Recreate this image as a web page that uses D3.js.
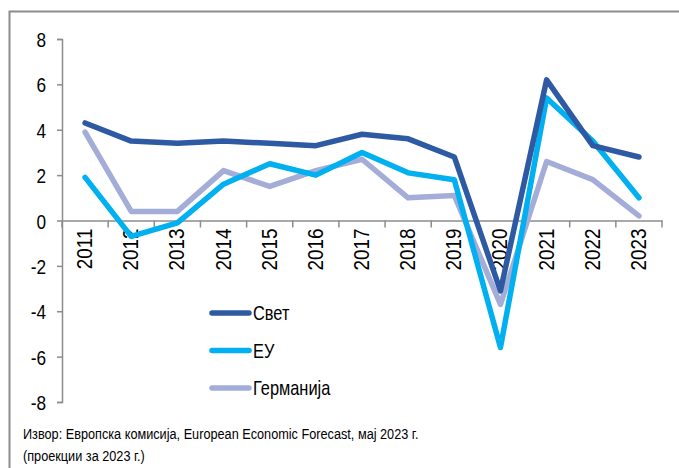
<!DOCTYPE html>
<html>
<head>
<meta charset="utf-8">
<script src="https://cdn.jsdelivr.net/npm/d3@7"></script>
<style>
  body { margin: 0; background: #fff; }
  text { font-family: "Liberation Sans", Arial, sans-serif; fill: #000; }
</style>
</head>
<body>
<div id="container"></div>
<script>
// <---------data---------->
let years = ["2011","2012","2013","2014","2015","2016","2017","2018","2019","2020","2021","2022","2023"];
let svet = [4.3, 3.5, 3.4, 3.5, 3.4, 3.3, 3.8, 3.6, 2.8, -3.1, 6.2, 3.3, 2.8];
let eu = [1.9, -0.7, -0.1, 1.6, 2.5, 2.0, 3.0, 2.1, 1.8, -5.6, 5.4, 3.5, 1.0];
let germany = [3.9, 0.4, 0.4, 2.2, 1.5, 2.2, 2.7, 1.0, 1.1, -3.7, 2.6, 1.8, 0.2];
let yTicks = [8, 6, 4, 2, 0, -2, -4, -6, -8];
let seriesNames = ["Свет", "ЕУ", "Германија"];
let seriesColors = ["#2E59A3", "#00B0F0", "#A3ADD8"];
let sourceLines = [
  "Извор: Европска комисија, European Economic Forecast, мај 2023 г.",
  "(проекции за 2023 г.)"
];

// narrow look (no Arial Narrow installed) -> squeeze text horizontally
let squeeze = 0.82;

// <---------canvas---------->
let w = 679, h = 468;
let viz = d3.select("#container")
  .append("svg")
    .attr("width", w)
    .attr("height", h)
    .style("display", "block")
;

// outer frame
viz.append("rect")
  .attr("x", 9.5)
  .attr("y", 11.5)
  .attr("width", 700)
  .attr("height", 500)
  .attr("fill", "none")
  .attr("stroke", "#8c8c8c")
  .attr("stroke-width", 2)
;

let x = d3.scaleBand().domain(years).range([62, 662]);
let y = d3.scaleLinear().domain([-8, 8]).range([402, 39]);

// y axis
let yAxis = d3.axisLeft(y).tickValues(yTicks).tickSize(5).tickPadding(12)
  .tickFormat(d => d < 0 ? "-" + Math.abs(d) : d);
let yG = viz.append("g").attr("transform", "translate(62,0)").call(yAxis);
yG.select(".domain").attr("stroke", "#8c8c8c").attr("stroke-width", 1.5);
yG.selectAll(".tick line").attr("stroke", "#8c8c8c").attr("stroke-width", 1.5);
yG.selectAll(".tick text")
  .attr("x", null)
  .attr("dy", "0.36em")
  .attr("transform", "translate(-16,0) scale(" + squeeze + ",1)")
  .style("font-size", "21px")
;

// x axis at zero
let xAxis = d3.axisBottom(x).tickSize(0).tickFormat("");
let xG = viz.append("g").attr("transform", "translate(0," + y(0) + ")").call(xAxis);
xG.select(".domain").attr("stroke", "#8c8c8c").attr("stroke-width", 1.5);
xG.selectAll(".boundary")
  .data(d3.range(years.length + 1))
  .enter()
  .append("line")
    .attr("x1", i => 62 + i * x.step())
    .attr("x2", i => 62 + i * x.step())
    .attr("y1", 0)
    .attr("y2", 7)
    .attr("stroke", "#8c8c8c")
    .attr("stroke-width", 1.5)
;
xG.selectAll(".yearLabel")
  .data(years)
  .enter()
  .append("text")
    .attr("transform", d => "translate(" + (x(d) + x.bandwidth() / 2 + 7) + ",8) rotate(-90) scale(0.86,1)")
    .attr("text-anchor", "end")
    .style("font-size", "22px")
    .text(d => d)
;

// <---------lines---------->
let line = d3.line()
  .x((d, i) => x(years[i]) + x.bandwidth() / 2)
  .y(d => y(d));

let allSeries = [svet, eu, germany];
// germany at the back, world on top
let order = [2, 1, 0];
order.forEach(function(k){
  viz.append("path")
    .datum(allSeries[k])
    .attr("d", line)
    .attr("fill", "none")
    .attr("stroke", seriesColors[k])
    .attr("stroke-width", 5.5)
    .attr("stroke-linejoin", "round")
    .attr("stroke-linecap", "round")
  ;
});

// <---------legend---------->
let legend = viz.selectAll(".legend")
  .data(seriesNames)
  .enter()
  .append("g")
    .attr("class", "legend")
    .attr("transform", (d, i) => "translate(212," + (313 + i * 37.5) + ")")
;
legend.append("line")
  .attr("x1", 0)
  .attr("x2", 37)
  .attr("stroke", (d, i) => seriesColors[i])
  .attr("stroke-width", 5.5)
  .attr("stroke-linecap", "round")
;
legend.append("text")
  .attr("transform", "translate(41,7) scale(" + squeeze + ",1)")
  .style("font-size", "20px")
  .text(d => d)
;

// <---------source---------->
viz.selectAll(".source")
  .data(sourceLines)
  .enter()
  .append("text")
    .attr("transform", (d, i) => "translate(23," + (439 + i * 22) + ") scale(" + squeeze + ",1)")
    .style("font-size", "15.5px")
    .text(d => d)
;
</script>
</body>
</html>
